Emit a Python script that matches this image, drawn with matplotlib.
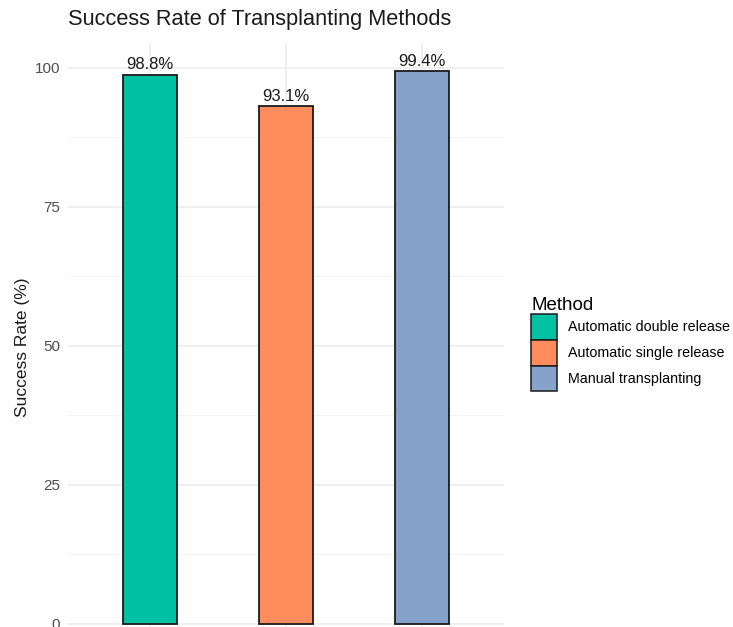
import matplotlib
matplotlib.use("Agg")
import matplotlib.pyplot as plt
from matplotlib.patches import Patch
from matplotlib.ticker import MultipleLocator

plt.rcParams['font.family'] = ['Liberation Sans', 'DejaVu Sans']

methods = ["Automatic double release", "Automatic single release", "Manual transplanting"]
rates = [98.8, 93.1, 99.4]
labels = ["98.8%", "93.1%", "99.4%"]
colors = ["#00C1A4", "#FE8C5C", "#86A2CB"]
yticks = [0, 25, 50, 75, 100]

W, H = 733, 627
fig = plt.figure(figsize=(W / 100, H / 100), dpi=100)
left_px, right_px = 68.4, 503.6
top_px, bot_px = 43.7, 651.6
ax = fig.add_axes([left_px / W, (H - bot_px) / H, (right_px - left_px) / W, (bot_px - top_px) / H])

x = list(range(1, len(methods) + 1))
ax.bar(x, rates, width=0.4, color=colors, edgecolor="#1a1a1a", linewidth=1.3, zorder=3)
for xi, r, lab in zip(x, rates, labels):
    ax.text(xi, r + 0.4, lab, ha="center", va="bottom", fontsize=12, color="#1a1a1a", zorder=4)

ax.set_xlim(0.4, 3.6)
ax.set_ylim(-4.97, 104.37)
ax.set_yticks(yticks)
ax.set_yticklabels([str(t) for t in yticks])
ax.yaxis.set_minor_locator(MultipleLocator(12.5))
ax.set_xticks(x)
ax.set_xticklabels([])
ax.grid(which="major", color="#EBEBEB", linewidth=1.1, zorder=0)
ax.grid(which="minor", axis="y", color="#F2F2F2", linewidth=0.6, zorder=0)
ax.tick_params(which="both", length=0, labelsize=11, labelcolor="#4D4D4D", pad=6)
for s in ax.spines.values():
    s.set_visible(False)
ax.set_ylabel("Success Rate (%)", fontsize=12.5, color="#1a1a1a", labelpad=3)

fig.text(left_px / W, 1 - 20 / H, "Success Rate of Transplanting Methods", fontsize=15.7,
         color="#1a1a1a", ha="left", va="center")

handles = [Patch(facecolor=c, edgecolor="#1a1a1a", linewidth=1.1) for c in colors]
leg = fig.legend(handles, methods, loc="upper left", bbox_to_anchor=(521 / W, 1 - 287 / H),
                 frameon=False, title="Method", fontsize=10.3, title_fontsize=13.5,
                 handlelength=1.85, handleheight=2.4, labelspacing=0.0, handletextpad=0.75,
                 borderpad=0.2)
leg._legend_box.align = "left"

fig.savefig("out.png", dpi=100)
